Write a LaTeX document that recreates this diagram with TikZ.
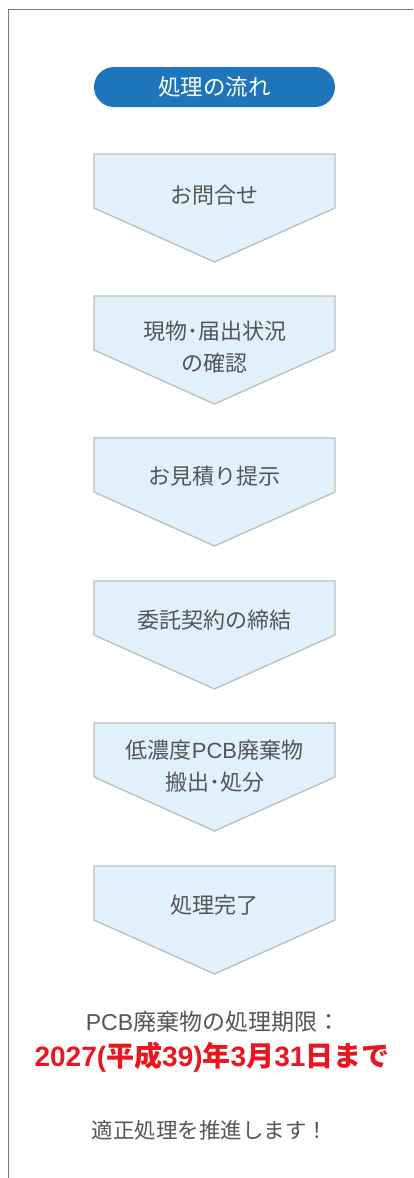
\documentclass[tikz,border=0pt]{standalone}
\usepackage{fontspec}
\setmainfont{Noto Sans CJK JP}
\newfontfamily\latinfont{Liberation Sans}
\usetikzlibrary{positioning}
\definecolor{pillblue}{HTML}{1E75BB}
\definecolor{chevfill}{HTML}{E0F1FC}
\definecolor{chevline}{HTML}{BDBDBD}
\definecolor{textgray}{HTML}{555555}
\definecolor{framegray}{HTML}{7A7A7A}
\definecolor{deadred}{HTML}{E8161E}
\tikzset{
x=1pt, y=-1pt, % one unit is one pixel, counted from the top
steptext/.style={text=textgray, font=\fontsize{22}{32}\selectfont, align=center, inner sep=0pt}, % text inside each step
chevron/.style={fill=chevfill, draw=chevline, line width=1.3pt}, % the arrow shaped step
pics/flowstep/.style={code={
    \draw[chevron] (-120.5,0) -- (120.5,0) -- (120.5,54) -- (0,108) -- (-120.5,54) -- cycle;
}},
}

\begin{document}
\begin{tikzpicture}
    \useasboundingbox (0,0) rectangle (413,1178);
    % frame
    \draw[framegray, line width=1.6pt] (8.5,1178) -- (8.5,9.5) -- (413,9.5);
    % title
    \node[fill=pillblue, text=white, rounded corners=20pt, minimum width=241pt, minimum height=40pt,
          font=\fontsize{22.5}{26}\selectfont] (title) at (214.5,87) {処理の流れ};
    % steps
    \pic at (214.5,154) {flowstep};
    \pic at (214.5,296) {flowstep};
    \pic at (214.5,438) {flowstep};
    \pic at (214.5,581) {flowstep};
    \pic at (214.5,723) {flowstep};
    \pic at (214.5,866) {flowstep};
    \node[steptext] (s1) at (214.5,195) {お問合せ};
    \node[steptext] (s2) at (214.5,347) {現物･届出状況\\の確認};
    \node[steptext] (s3) at (214.5,476) {お見積り提示};
    \node[steptext] (s4) at (214.5,620) {委託契約の締結};
    \node[steptext] (s5) at (214.5,766) {低濃度{\latinfont PCB}廃棄物\\搬出･処分};
    \node[steptext] (s6) at (214.5,905) {処理完了};
    % deadline
    \node[steptext, font=\fontsize{23}{26}\selectfont] (limit) at (213,1022) {{\latinfont PCB}廃棄物の処理期限：};
    \node[text=deadred, inner sep=0pt, font=\fontsize{28}{30}\selectfont\bfseries] (deadline) at (212,1057)
        {{\latinfont 2027(}平成{\latinfont 39)}年{\latinfont 3}月{\latinfont 31}日まで};
    \node[steptext, font=\fontsize{21.5}{26}\selectfont] (slogan) at (210,1130) {適正処理を推進します！};
\end{tikzpicture}
\end{document}
